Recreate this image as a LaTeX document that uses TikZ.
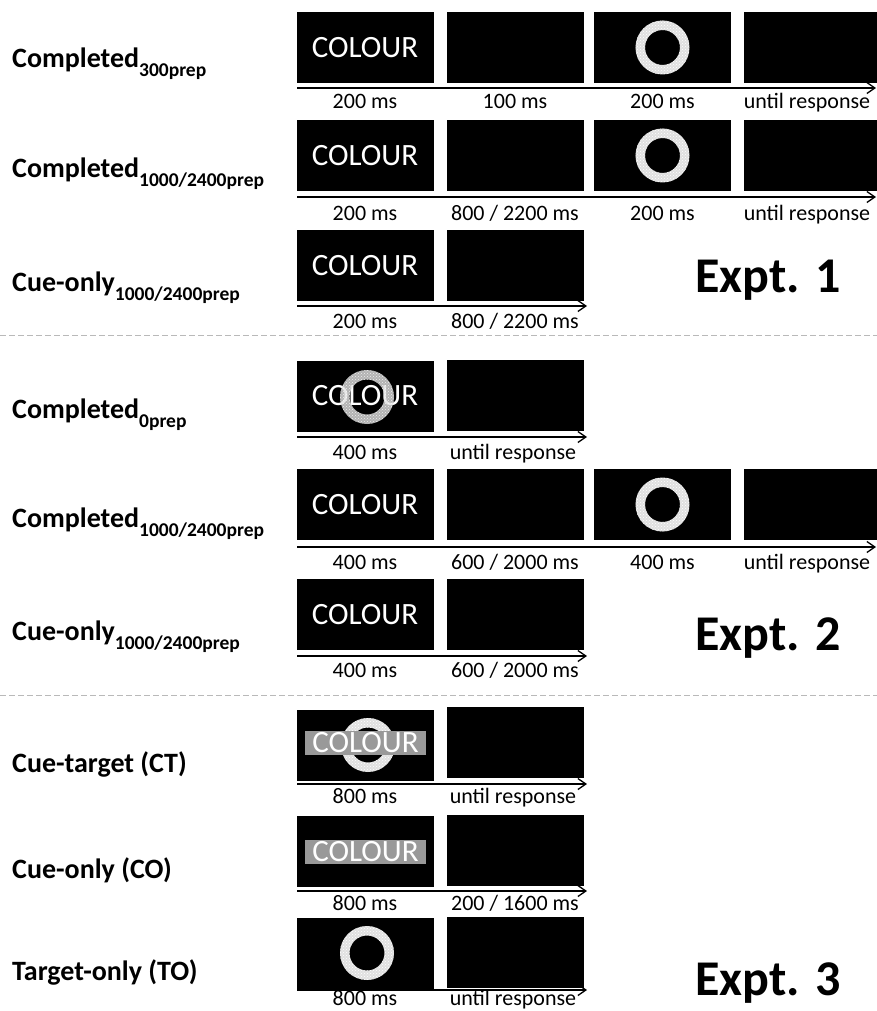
\documentclass[tikz,border=0pt]{standalone}
\usepackage{fontspec}
\setmainfont{Carlito}
\usetikzlibrary{arrows.meta,patterns}
\newcommand{\lblsub}[1]{\raisebox{-9pt}{\fontsize{19.5}{20}\selectfont #1}}
\tikzset{
    screen/.style={fill=black, minimum width=137pt, minimum height=71pt, inner sep=0pt,
        text=white, font=\fontsize{31}{33}\selectfont},
    greybar/.style={fill=black!40, minimum width=121pt, minimum height=24pt, inner sep=0pt,
        text=white, font=\fontsize{31}{33}\selectfont},
    cond/.style={anchor=base west, inner sep=0pt, font=\fontsize{28}{30}\selectfont\bfseries},
    dur/.style={anchor=base, inner sep=0pt, font=\fontsize{22}{24}\selectfont},
    expt/.style={anchor=base, inner sep=0pt, font=\fontsize{50}{52}\selectfont\bfseries},
    timeline/.style={->, line width=1.3pt},
    ring/.style={fill=black!12, even odd rule, postaction={pattern=crosshatch dots, pattern color=white}},
    divider/.style={gray!55, line width=0.9pt, dash pattern=on 6pt off 3pt}
}
\begin{document}
\begin{tikzpicture}[x=1pt, y=-1pt, >={Straight Barb[length=8pt,width=11pt]}]
    \useasboundingbox (0,0) rectangle (877,1011);

    % 1. Expt. 1
    \node[cond] (c1) at (12,68) {Completed\lblsub{300prep}};
    \node[screen] (s1a) at (365,47.5) {COLOUR};
    \node[screen] (s1b) at (515,47.5) {};
    \node[screen] (s1c) at (662.5,47.5) {};
    \fill[ring] (s1c) circle (27pt) (s1c) circle (17.5pt);
    \node[screen, minimum width=133pt] (s1d) at (810.5,47.5) {};
    \coordinate (t1s) at (297,88);
    \coordinate (t1e) at (876,88);
    \draw[timeline] (t1s) -- (t1e);
    \node[dur] (d1a) at (365,109) {200 ms};
    \node[dur] (d1b) at (515,109) {100 ms};
    \node[dur] (d1c) at (662.5,109) {200 ms};
    \node[dur] (d1d) at (807,109) {until response};

    \node[cond] (c2) at (12,178) {Completed\lblsub{1000/2400prep}};
    \node[screen] (s2a) at (365,155.5) {COLOUR};
    \node[screen] (s2b) at (515,155.5) {};
    \node[screen] (s2c) at (662.5,155.5) {};
    \fill[ring] (s2c) circle (27pt) (s2c) circle (17.5pt);
    \node[screen, minimum width=133pt] (s2d) at (810.5,155.5) {};
    \coordinate (t2s) at (297,197);
    \coordinate (t2e) at (876,197);
    \draw[timeline] (t2s) -- (t2e);
    \node[dur] (d2a) at (365,220) {200 ms};
    \node[dur] (d2b) at (515,220) {800 / 2200 ms};
    \node[dur] (d2c) at (662.5,220) {200 ms};
    \node[dur] (d2d) at (807,220) {until response};

    \node[cond] (c3) at (12,291) {Cue-only\lblsub{1000/2400prep}};
    \node[screen] (s3a) at (365,265.5) {COLOUR};
    \node[screen] (s3b) at (515,265.5) {};
    \coordinate (t3s) at (297,306);
    \coordinate (t3e) at (587,306);
    \draw[timeline] (t3s) -- (t3e);
    \node[dur] (d3a) at (365,328) {200 ms};
    \node[dur] (d3b) at (515,328) {800 / 2200 ms};
    \node[expt] (e1) at (768,292) {Expt. 1};

    \coordinate (l1) at (0,335);
    \coordinate (r1) at (877,335);
    \draw[divider] (l1) -- (r1);

    % 2. Expt. 2
    \node[cond] (c4) at (12,418) {Completed\lblsub{0prep}};
    \node[screen] (s4a) at (365,396) {COLOUR};
    \fill[ring, fill opacity=0.8] (367,397) circle (27pt) (367,397) circle (17.5pt);
    \node[screen] (s4b) at (515,395) {};
    \coordinate (t4s) at (297,437);
    \coordinate (t4e) at (587,437);
    \draw[timeline] (t4s) -- (t4e);
    \node[dur] (d4a) at (365,459) {400 ms};
    \node[dur] (d4b) at (513,459) {until response};

    \node[cond] (c5) at (12,527) {Completed\lblsub{1000/2400prep}};
    \node[screen] (s5a) at (365,504.5) {COLOUR};
    \node[screen] (s5b) at (515,504.5) {};
    \node[screen] (s5c) at (662.5,504.5) {};
    \fill[ring] (s5c) circle (27pt) (s5c) circle (17.5pt);
    \node[screen, minimum width=133pt] (s5d) at (810.5,504.5) {};
    \coordinate (t5s) at (297,547);
    \coordinate (t5e) at (876,547);
    \draw[timeline] (t5s) -- (t5e);
    \node[dur] (d5a) at (365,569) {400 ms};
    \node[dur] (d5b) at (515,569) {600 / 2000 ms};
    \node[dur] (d5c) at (662.5,569) {400 ms};
    \node[dur] (d5d) at (807,569) {until response};

    \node[cond] (c6) at (12,640) {Cue-only\lblsub{1000/2400prep}};
    \node[screen] (s6a) at (365,614.5) {COLOUR};
    \node[screen] (s6b) at (515,614.5) {};
    \coordinate (t6s) at (297,656);
    \coordinate (t6e) at (587,656);
    \draw[timeline] (t6s) -- (t6e);
    \node[dur] (d6a) at (365,677) {400 ms};
    \node[dur] (d6b) at (515,677) {600 / 2000 ms};
    \node[expt] (e2) at (768,650) {Expt. 2};

    \coordinate (l2) at (0,695);
    \coordinate (r2) at (877,695);
    \draw[divider] (l2) -- (r2);

    % 3. Expt. 3
    \node[cond] (c7) at (12,772) {Cue-target (CT)};
    \node[screen] (s7a) at (365,745) {};
    \fill[ring] (368,745) circle (27pt) (368,745) circle (17.5pt);
    \node[greybar] (g7) at (365.5,743) {COLOUR};
    \node[screen] (s7b) at (515,742.5) {};
    \coordinate (t7s) at (297,784);
    \coordinate (t7e) at (587,784);
    \draw[timeline] (t7s) -- (t7e);
    \node[dur] (d7a) at (365,803) {800 ms};
    \node[dur] (d7b) at (513,803) {until response};

    \node[cond] (c8) at (12,878) {Cue-only (CO)};
    \node[screen] (s8a) at (365,851.5) {};
    \node[greybar] (g8) at (365.5,851.5) {COLOUR};
    \node[screen] (s8b) at (515,850) {};
    \coordinate (t8s) at (297,891);
    \coordinate (t8e) at (587,891);
    \draw[timeline] (t8s) -- (t8e);
    \node[dur] (d8a) at (365,910) {800 ms};
    \node[dur] (d8b) at (515,910) {200 / 1600 ms};

    \node[cond] (c9) at (12,980) {Target-only (TO)};
    \node[screen] (s9a) at (365,953) {};
    \fill[ring] (367,953) circle (27pt) (367,953) circle (17.5pt);
    \node[screen] (s9b) at (515,952) {};
    \coordinate (t9s) at (297,990);
    \coordinate (t9e) at (587,990);
    \draw[timeline] (t9s) -- (t9e);
    \node[dur] (d9a) at (365,1005.5) {800 ms};
    \node[dur] (d9b) at (513,1005.5) {until response};
    \node[expt] (e3) at (768,995) {Expt. 3};
\end{tikzpicture}
\end{document}
